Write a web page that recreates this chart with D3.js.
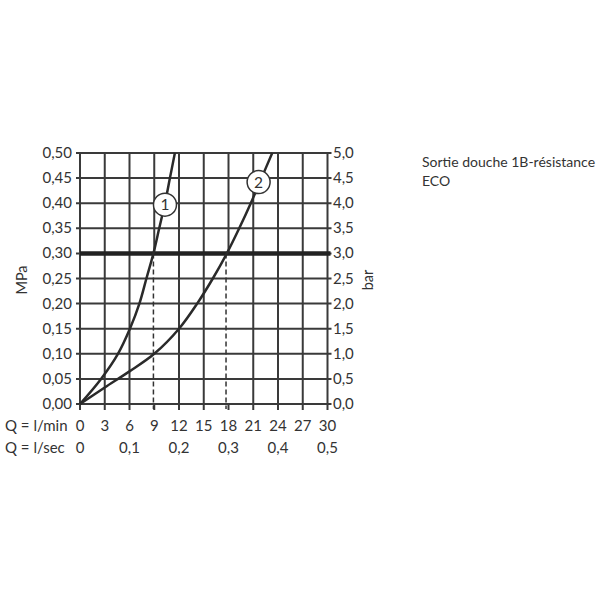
<!DOCTYPE html>
<html><head><meta charset="utf-8">
<script src="https://cdn.jsdelivr.net/npm/d3@7"></script>
<style>body{margin:0;background:#fff}svg{display:block}text{font-family:Lato,"Noto Sans",sans-serif;fill:#333}</style>
</head><body><svg id="c" width="600" height="600"></svg>
<script>
const qTicks = [0,3,6,9,12,15,18,21,24,27,30];
const secTicks = [0,0.1,0.2,0.3,0.4,0.5];
const mpaTicks = [0,0.05,0.10,0.15,0.20,0.25,0.30,0.35,0.40,0.45,0.50];
const barTicks = [0,0.5,1,1.5,2,2.5,3,3.5,4,4.5,5];
const curve1Q = [0, 2.55, 4.6, 6.05, 7.2, 8.05, 8.9, 9.6, 10.3, 10.9, 11.5];
const curve1P = [0, 0.05, 0.10, 0.15, 0.20, 0.25, 0.30, 0.35, 0.40, 0.45, 0.50];
const curve2Q = [0, 3, 6, 9, 12, 14.2, 16.1, 17.8, 19.3, 20.7, 22.0, 23.3];
const curve2P = [0, 0.033, 0.065, 0.10, 0.15, 0.20, 0.25, 0.30, 0.35, 0.40, 0.45, 0.50];
const refP = 0.30;
const dashQ = [8.9, 17.7];
const brokenGridQ = [9, 18];
const labelIds = ["1","2"];
const labelQ = [10.3, 21.65];
const labelP = [0.397, 0.442];
const legendLines = ["Sortie douche 1B-résistance","ECO"];

const svg = d3.select("#c");
const x = d3.scaleLinear().domain([0,30]).range([80,327.5]);
const y = d3.scaleLinear().domain([0,0.5]).range([404,153]);
const yb = d3.scaleLinear().domain([0,5]).range([404,153]);
const xs = d3.scaleLinear().domain([0,0.5]).range([80,327.5]);
const fmt = (d,n)=>d.toFixed(n).replace(".",",");
const gridC = "#3a3a3a";

svg.append("g").selectAll("line").data(qTicks).join("line")
  .attr("x1",d=>x(d)).attr("x2",d=>x(d)).attr("y1",y(0.5))
  .attr("y2",d=>brokenGridQ.includes(d)?y(refP):y(0)+6)
  .attr("stroke",gridC).attr("stroke-width",2);
svg.append("g").selectAll("line").data(brokenGridQ).join("line")
  .attr("x1",d=>x(d)).attr("x2",d=>x(d)).attr("y1",y(0)).attr("y2",y(0)+6)
  .attr("stroke",gridC).attr("stroke-width",2);
svg.append("g").selectAll("line").data(mpaTicks).join("line")
  .attr("x1",x(0)-4).attr("x2",x(30)+4).attr("y1",d=>y(d)).attr("y2",d=>y(d))
  .attr("stroke",gridC).attr("stroke-width",2);

svg.append("g").selectAll("text").data(mpaTicks).join("text")
  .attr("x",72).attr("y",d=>y(d)+5).attr("text-anchor","end")
  .attr("font-size",15).text(d=>fmt(d,2));
svg.append("g").selectAll("text").data(barTicks).join("text")
  .attr("x",333).attr("y",d=>yb(d)+5).attr("text-anchor","start")
  .attr("font-size",15).text(d=>fmt(d,1));
svg.append("g").selectAll("text").data(qTicks).join("text")
  .attr("x",d=>x(d)).attr("y",431).attr("text-anchor","middle")
  .attr("font-size",15).text(d=>d);
svg.append("g").selectAll("text").data(secTicks).join("text")
  .attr("x",d=>xs(d)).attr("y",453).attr("text-anchor","middle")
  .attr("font-size",15).text(d=>d===0?"0":fmt(d,1));
svg.append("text").attr("x",5).attr("y",431).attr("font-size",15).text("Q = l/min");
svg.append("text").attr("x",5).attr("y",453).attr("font-size",15).text("Q = l/sec");

svg.append("text").attr("transform","translate(27,280) rotate(-90)").attr("text-anchor","middle")
  .attr("font-size",14.5).text("MPa");
svg.append("text").attr("transform","translate(373,280) rotate(-90)").attr("text-anchor","middle")
  .attr("font-size",14.5).text("bar");

svg.append("g").selectAll("line").data(dashQ).join("line")
  .attr("x1",d=>x(d)).attr("x2",d=>x(d)).attr("y1",y(refP)).attr("y2",y(0)+5)
  .attr("stroke","#333").attr("stroke-width",1.5).attr("stroke-dasharray","5,3");

svg.append("line").attr("x1",x(0)).attr("x2",x(30)+3).attr("y1",y(refP)).attr("y2",y(refP))
  .attr("stroke","#222").attr("stroke-width",4.5);

const line = d3.line().x(d=>x(d[0])).y(d=>y(d[1])).curve(d3.curveCatmullRom.alpha(0.5));
[[curve1Q,curve1P],[curve2Q,curve2P]].forEach(([q,p])=>{
  svg.append("path").datum(q.map((v,i)=>[v,p[i]])).attr("d",line)
    .attr("fill","none").attr("stroke","#2a2a2a").attr("stroke-width",2.5);
});

const lg = svg.append("g").selectAll("g").data(labelIds).join("g")
  .attr("transform",(d,i)=>`translate(${x(labelQ[i])},${y(labelP[i])})`);
lg.append("circle").attr("r",11.5).attr("fill","#fff").attr("stroke","#333").attr("stroke-width",1.5);
lg.append("text").attr("text-anchor","middle").attr("y",5.5).attr("font-size",15.5).text(d=>d);

svg.append("g").selectAll("text").data(legendLines).join("text")
  .attr("x",422).attr("y",(d,i)=>167+i*19).attr("font-size",14).text(d=>d);
</script></body></html>
